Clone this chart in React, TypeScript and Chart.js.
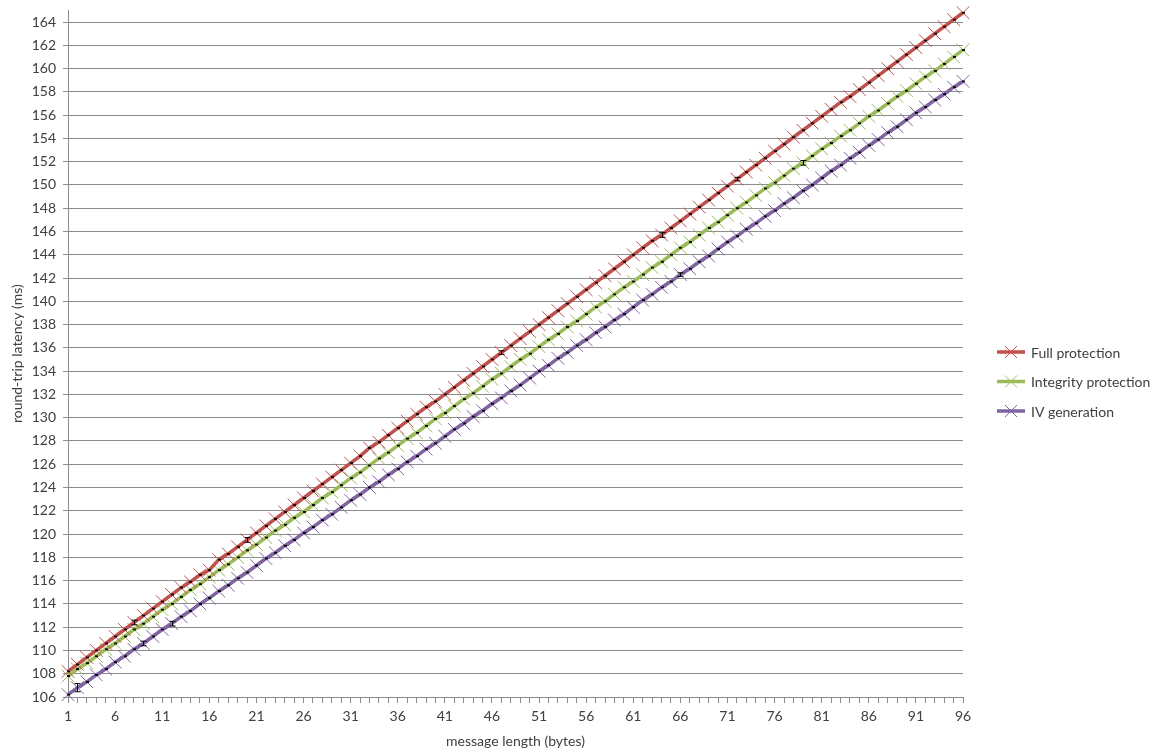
import React, { useEffect, useRef } from "react";
import { Chart, registerables } from "chart.js";

Chart.register(...registerables);

// Message length in bytes (x axis)
const messageLengths = [
  1, 2, 3, 4, 5, 6, 7, 8, 9, 10, 11, 12, 13, 14, 15, 16, 17, 18, 19, 20,
  21, 22, 23, 24, 25, 26, 27, 28, 29, 30, 31, 32, 33, 34, 35, 36, 37, 38, 39, 40,
  41, 42, 43, 44, 45, 46, 47, 48, 49, 50, 51, 52, 53, 54, 55, 56, 57, 58, 59, 60,
  61, 62, 63, 64, 65, 66, 67, 68, 69, 70, 71, 72, 73, 74, 75, 76, 77, 78, 79, 80,
  81, 82, 83, 84, 85, 86, 87, 88, 89, 90, 91, 92, 93, 94, 95, 96,
];

// Round-trip latency (ms)
const fullProtection = [
  108.2, 108.8, 109.4, 110.0, 110.6, 111.2, 111.8, 112.4, 113.0, 113.6,
  114.2, 114.8, 115.4, 115.9, 116.5, 116.9, 117.8, 118.3, 118.9, 119.5,
  120.1, 120.7, 121.3, 121.9, 122.5, 123.1, 123.7, 124.3, 124.9, 125.5,
  126.1, 126.7, 127.4, 127.9, 128.5, 129.1, 129.7, 130.3, 130.9, 131.4,
  132.0, 132.6, 133.2, 133.8, 134.4, 135.0, 135.6, 136.2, 136.8, 137.4,
  138.0, 138.6, 139.2, 139.8, 140.4, 141.0, 141.6, 142.2, 142.8, 143.4,
  144.0, 144.6, 145.2, 145.7, 146.3, 146.9, 147.5, 148.1, 148.7, 149.3,
  149.9, 150.5, 151.1, 151.7, 152.3, 152.9, 153.5, 154.1, 154.7, 155.3,
  155.9, 156.5, 157.1, 157.6, 158.2, 158.8, 159.4, 160.0, 160.6, 161.2,
  161.8, 162.4, 163.0, 163.6, 164.2, 164.8,
];

const integrityProtection = [
  107.8, 108.4, 108.9, 109.5, 110.1, 110.6, 111.2, 111.8, 112.3, 112.9,
  113.5, 114.0, 114.6, 115.2, 115.7, 116.3, 116.9, 117.4, 118.0, 118.6,
  119.1, 119.7, 120.3, 120.8, 121.4, 121.9, 122.5, 123.1, 123.6, 124.2,
  124.8, 125.3, 125.9, 126.5, 127.0, 127.6, 128.2, 128.7, 129.3, 129.9,
  130.4, 131.0, 131.6, 132.1, 132.7, 133.3, 133.8, 134.4, 135.0, 135.5,
  136.1, 136.7, 137.2, 137.8, 138.3, 138.9, 139.5, 140.0, 140.6, 141.2,
  141.7, 142.3, 142.9, 143.4, 144.0, 144.6, 145.1, 145.7, 146.3, 146.8,
  147.4, 148.0, 148.5, 149.1, 149.7, 150.2, 150.8, 151.4, 151.9, 152.5,
  153.1, 153.6, 154.2, 154.7, 155.3, 155.9, 156.4, 157.0, 157.6, 158.1,
  158.7, 159.3, 159.8, 160.4, 161.0, 161.6,
];

const ivGeneration = [
  106.2, 106.8, 107.3, 107.9, 108.4, 109.0, 109.5, 110.1, 110.6, 111.2,
  111.8, 112.3, 112.9, 113.4, 114.0, 114.5, 115.1, 115.6, 116.2, 116.7,
  117.3, 117.9, 118.4, 119.0, 119.5, 120.1, 120.6, 121.2, 121.7, 122.3,
  122.9, 123.4, 124.0, 124.5, 125.1, 125.6, 126.2, 126.7, 127.3, 127.8,
  128.4, 129.0, 129.5, 130.1, 130.6, 131.2, 131.7, 132.3, 132.8, 133.4,
  134.0, 134.5, 135.1, 135.6, 136.2, 136.7, 137.3, 137.8, 138.4, 138.9,
  139.5, 140.1, 140.6, 141.2, 141.7, 142.3, 142.8, 143.4, 143.9, 144.5,
  145.1, 145.6, 146.2, 146.7, 147.3, 147.8, 148.4, 148.9, 149.5, 150.0,
  150.6, 151.2, 151.7, 152.3, 152.8, 153.4, 153.9, 154.5, 155.0, 155.6,
  156.2, 156.7, 157.3, 157.8, 158.4, 158.9,
];

const seriesNames = ["Full protection", "Integrity protection", "IV generation"];
const seriesColors = ["#C0504D", "#9BBB59", "#8064A2"];

// Error bar half-widths (ms): a tiny default, plus the larger ones
// [series index, message length, half-width]
const defaultError = 0.03;
const errorOverrides: [number, number, number][] = [
  [2, 2, 0.35],
  [0, 8, 0.2],
  [2, 9, 0.2],
  [2, 12, 0.2],
  [0, 20, 0.2],
  [0, 47, 0.15],
  [0, 64, 0.2],
  [2, 66, 0.15],
  [0, 72, 0.15],
  [1, 79, 0.2],
];

// Y axis range and tick values
const yMin = 106;
const yMax = 165;
const yTickValues = [
  106, 108, 110, 112, 114, 116, 118, 120, 122, 124, 126, 128, 130, 132, 134,
  136, 138, 140, 142, 144, 146, 148, 150, 152, 154, 156, 158, 160, 162, 164,
];

const FONT = "Lato, 'Open Sans', 'DejaVu Sans', sans-serif";
const TEXT = "#404040";
const GRID = "#8C8C8C";

const errorBarPlugin = {
  id: "errorBars",
  afterDatasetsDraw(chart: any) {
    const { ctx, scales } = chart;
    const x = scales.x;
    const y = scales.y;
    ctx.save();
    ctx.strokeStyle = "#000000";
    ctx.lineWidth = 1;
    chart.data.datasets.forEach((ds: any, si: number) => {
      ds.data.forEach((p: any) => {
        const o = errorOverrides.find((e) => e[0] === si && e[1] === p.x);
        const err = o ? o[2] : defaultError;
        const cap = o ? 3 : 1.5;
        const px = Math.round(x.getPixelForValue(p.x)) + 0.5;
        const top = y.getPixelForValue(p.y + err);
        const bot = y.getPixelForValue(p.y - err);
        ctx.beginPath();
        ctx.moveTo(px, top);
        ctx.lineTo(px, bot);
        ctx.moveTo(px - cap, top);
        ctx.lineTo(px + cap, top);
        ctx.moveTo(px - cap, bot);
        ctx.lineTo(px + cap, bot);
        ctx.stroke();
      });
    });
    ctx.restore();
  },
};

const sideLegendPlugin = {
  id: "sideLegend",
  afterDraw(chart: any) {
    const { ctx, chartArea } = chart;
    const x0 = chartArea.right + 34;
    const cy = chart.height / 2 + 5;
    const gap = 29.5;
    ctx.save();
    ctx.font = `14px ${FONT}`;
    ctx.textBaseline = "middle";
    ctx.textAlign = "left";
    seriesNames.forEach((name, i) => {
      const yy = cy + (i - 1) * gap;
      const color = seriesColors[i];
      ctx.strokeStyle = color;
      ctx.lineWidth = 3.5;
      ctx.beginPath();
      ctx.moveTo(x0, yy);
      ctx.lineTo(x0 + 28, yy);
      ctx.stroke();
      ctx.lineWidth = 1;
      const mx = x0 + 14;
      const r = 6;
      ctx.beginPath();
      ctx.moveTo(mx - r, yy - r);
      ctx.lineTo(mx + r, yy + r);
      ctx.moveTo(mx - r, yy + r);
      ctx.lineTo(mx + r, yy - r);
      ctx.stroke();
      ctx.fillStyle = TEXT;
      ctx.fillText(name, x0 + 34, yy + 1);
    });
    ctx.restore();
  },
};

export default function App() {
  const canvasRef = useRef<HTMLCanvasElement | null>(null);

  useEffect(() => {
    const canvas = canvasRef.current;
    if (!canvas) return;
    const allSeries = [fullProtection, integrityProtection, ivGeneration];
    const chart = new Chart(canvas, {
      type: "line",
      data: {
        datasets: allSeries.map((vals, i) => ({
          label: seriesNames[i],
          data: messageLengths.map((m, j) => ({ x: m, y: vals[j] })),
          borderColor: seriesColors[i],
          backgroundColor: seriesColors[i],
          borderWidth: 3.5,
          pointStyle: "crossRot",
          pointRadius: 9,
          pointBorderWidth: 1,
          pointBorderColor: seriesColors[i],
          pointHoverRadius: 9,
          tension: 0,
          fill: false,
          clip: false,
        })),
      },
      options: {
        responsive: false,
        animation: false,
        events: [],
        layout: { padding: { top: 10.4, right: 202, left: 0, bottom: 0 } },
        plugins: {
          legend: { display: false },
          tooltip: { enabled: false },
        },
        scales: {
          x: {
            type: "linear",
            min: 1,
            max: 96,
            afterFit: (s: any) => {
              s.height = 56;
            },
            ticks: {
              stepSize: 1,
              autoSkip: false,
              maxRotation: 0,
              padding: 5,
              color: TEXT,
              font: { family: FONT, size: 14 },
              callback: (v: any) => ((Number(v) - 1) % 5 === 0 ? String(v) : ""),
            },
            grid: {
              display: true,
              drawOnChartArea: false,
              drawTicks: true,
              tickLength: 6,
              color: GRID,
            },
            border: { display: true, color: GRID },
            title: {
              display: true,
              text: "message length (bytes)",
              color: TEXT,
              font: { family: FONT, size: 14 },
              padding: { top: 0, bottom: 3 },
            },
          },
          y: {
            type: "linear",
            min: yMin,
            max: yMax,
            afterFit: (s: any) => {
              s.width = 68;
              s.paddingTop = 0;
              s.paddingBottom = 0;
            },
            afterBuildTicks: (s: any) => {
              s.ticks = yTickValues.map((v) => ({ value: v }));
            },
            ticks: {
              autoSkip: false,
              padding: 7,
              color: TEXT,
              font: { family: FONT, size: 14 },
            },
            grid: {
              color: GRID,
              tickLength: 5,
              drawTicks: true,
            },
            border: { display: true, color: GRID },
            title: {
              display: true,
              text: "round-trip latency (ms)",
              color: TEXT,
              font: { family: FONT, size: 14 },
              padding: { top: 9, bottom: 0 },
            },
          },
        },
      },
      plugins: [errorBarPlugin, sideLegendPlugin],
    });
    return () => chart.destroy();
  }, []);

  return (
    <div style={{ position: "fixed", left: 0, top: 0, width: 1165, height: 753, background: "#ffffff" }}>
      <canvas ref={canvasRef} width={1165} height={753} style={{ width: 1165, height: 753 }} />
    </div>
  );
}
